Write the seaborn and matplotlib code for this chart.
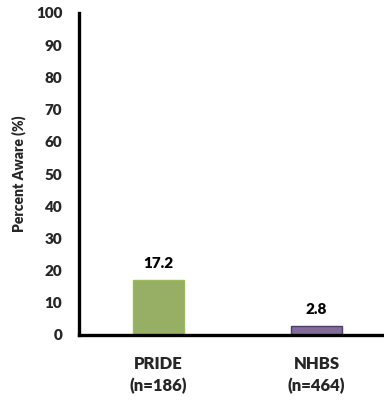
import matplotlib
matplotlib.use("Agg")
import matplotlib.pyplot as plt
import seaborn as sns
import pandas as pd

groups = ["PRIDE\n(n=186)", "NHBS\n(n=464)"]
percent_aware = [17.2, 2.8]
bar_colors = ["#9BBB59", "#8064A2"]
edge_colors = ["#9BBB59", "#4F3D66"]
y_ticks = [0, 10, 20, 30, 40, 50, 60, 70, 80, 90, 100]

sns.set_style("white")
plt.rcParams["font.family"] = ["Lato", "DejaVu Sans"]
W = "heavy"

df = pd.DataFrame({"group": groups, "pct": percent_aware})

fig = plt.figure(figsize=(3.84, 4.05), dpi=100)
ax = fig.add_axes([79 / 384, 1 - 335 / 405, 1 - 79 / 384 + 0.01, (335 - 13) / 405])

sns.barplot(data=df, x="group", y="pct", hue="group", palette=bar_colors,
            width=0.32, legend=False, ax=ax)
for patch, ec in zip(ax.patches, edge_colors):
    patch.set_edgecolor(ec)
    patch.set_linewidth(1.0)

for i, v in enumerate(percent_aware):
    ax.text(i, v + 3, f"{v}", ha="center", va="bottom",
            fontsize=11, fontweight=W, color="black")

ax.set_ylim(0, 100)
ax.set_xlim(-0.5, 1.45)
ax.set_yticks(y_ticks)
ax.set_yticklabels([str(t) for t in y_ticks], fontsize=11, fontweight=W)
ax.tick_params(axis="y", length=0, pad=12)
ax.tick_params(axis="x", length=0, pad=15)
for lbl in ax.get_xticklabels():
    lbl.set_fontsize(12)
    lbl.set_fontweight(W)
    lbl.set_linespacing(1.45)

ax.set_xlabel("")
ax.set_ylabel("Percent Aware (%)", fontsize=10, fontweight=W, labelpad=7)

sns.despine(ax=ax, top=True, right=True)
for side in ["left", "bottom"]:
    ax.spines[side].set_linewidth(2.4)
    ax.spines[side].set_color("black")

fig.savefig("out.png", dpi=100)
